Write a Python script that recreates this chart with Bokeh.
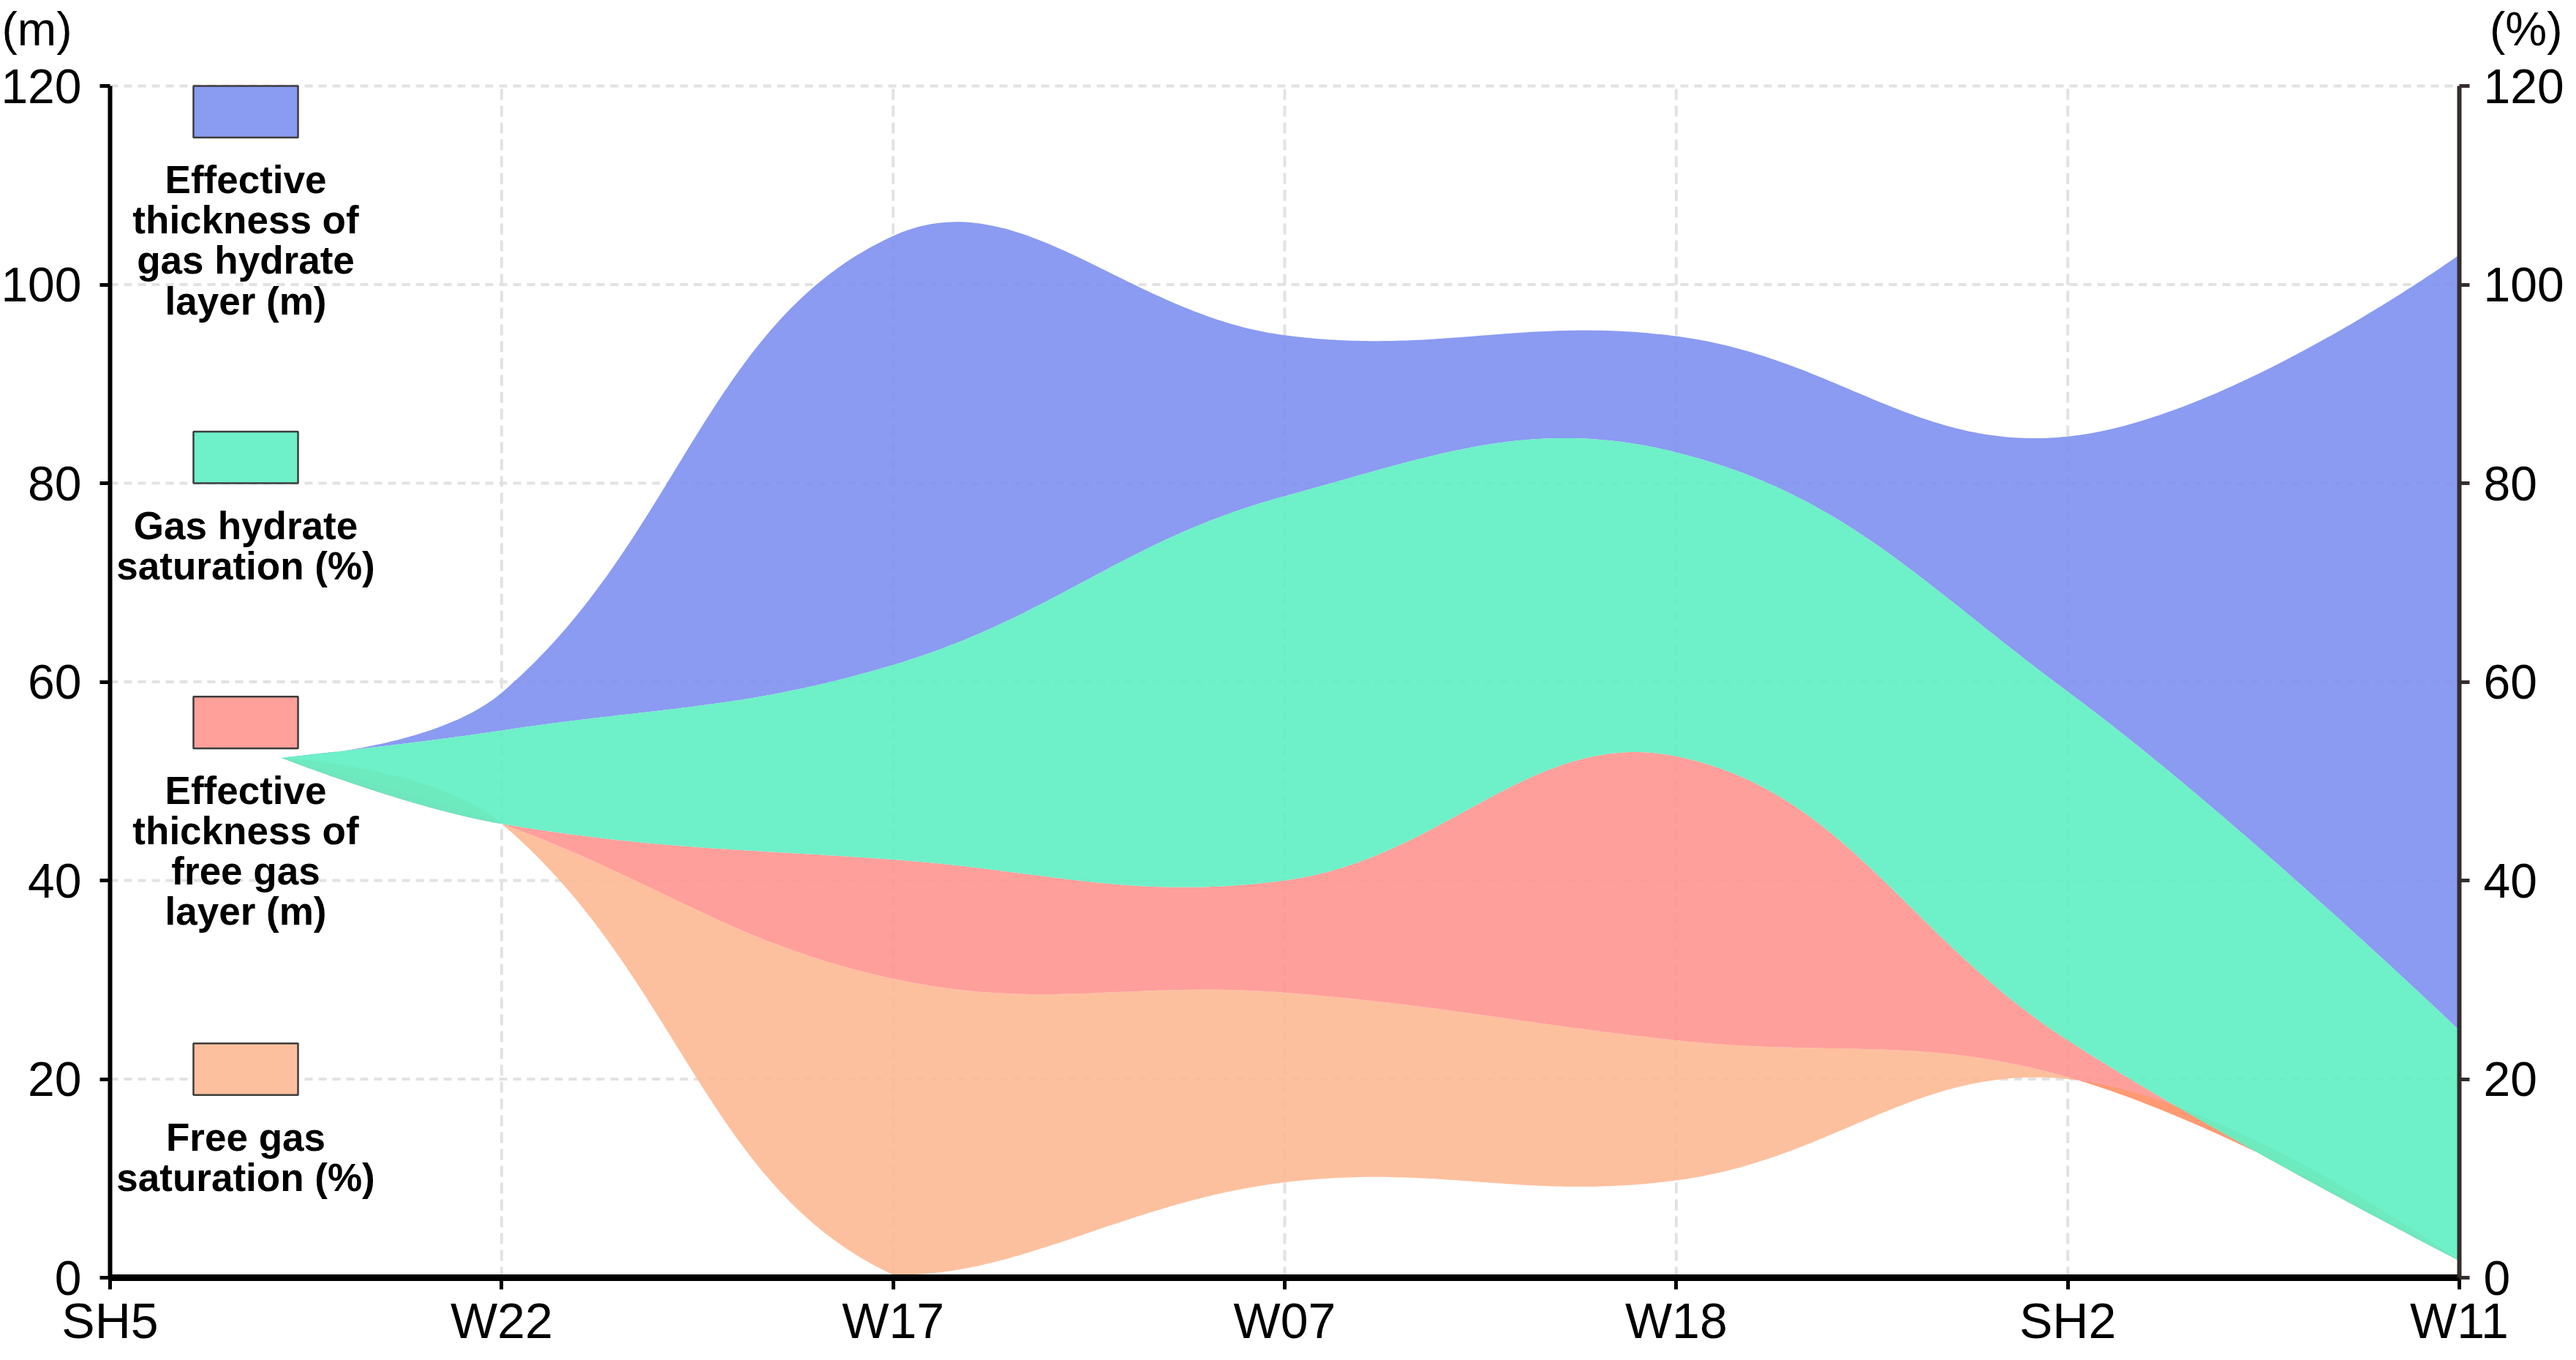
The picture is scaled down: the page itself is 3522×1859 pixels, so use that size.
import numpy as np
from bokeh.plotting import figure
from bokeh.models import Range1d, LinearAxis, FixedTicker, Label
from bokeh.embed import file_html
from bokeh.resources import INLINE
from bokeh.core.properties import value

# ---------------- data ----------------
stations = ["SH5", "W22", "W17", "W07", "W18", "SH2", "W11"]
# x position of each data point of the stream (first point = start of the stream)
stream_x = [0.437, 1, 2, 3, 4, 5, 6]
blue_thick = [0, 3.8, 43.2, 16.2, 11.7, 25.7, 78.1]      # effective thickness of gas hydrate layer (m)
green_sat = [0, 9.4, 19.6, 38.7, 30.6, 35.1, 23.2]       # gas hydrate saturation (%)
red_thick = [0, 0, 12.0, 11.3, 28.6, 3.7, 0]             # effective thickness of free gas layer (m)
orange_sat = [0, 0, 29.8, 19.1, 14.1, 0.2, 0]            # free gas saturation (%)
stream_centre = [52.35, 52.3, 52.6, 52.25, 52.3, 52.35, 52.35]
y_ticks = [0, 20, 40, 60, 80, 100, 120]
legend_labels = [
    ["Effective", "thickness of", "gas hydrate", "layer (m)"],
    ["Gas hydrate", "saturation (%)"],
    ["Effective", "thickness of", "free gas", "layer (m)"],
    ["Free gas", "saturation (%)"],
]

# ---------------- styling / layout ----------------
FONT = "Liberation Sans"
C_BLUE, C_GREEN, C_RED, C_ORANGE = "#7D90F0", "#5EEEC2", "#FF9590", "#FDB993"
L_BLUE, L_GREEN, L_RED, L_ORANGE = "#8A9BF2", "#6EF0C8", "#FFA09B", "#FDC09E"
C_OVERLAP = "#FF9A72"
GRID_C = "#e2e2e2"

W, H = 3506, 1843
PX_X0, PX_X6 = 150.0, 3362.0      # pixel column of x = 0 and x = 6
PX_Y0, PX_Y120 = 1746.0, 117.0    # pixel row of y = 0 and y = 120
SX = (PX_X6 - PX_X0) / 6.0
SY = (PX_Y0 - PX_Y120) / 120.0
X_START, X_END = -PX_X0 / SX, 6 + (W - PX_X6) / SX
Y_START, Y_END = -(H - PX_Y0) / SY, 120 + PX_Y120 / SY
RSX, RSY = 535.33, 13.667          # pixel scale of the reference (legend placement)

# stacked boundaries around the centre line
b = np.array(blue_thick, float)
g = np.array(green_sat, float)
r = np.array(red_thick, float)
o = np.array(orange_sat, float)
tot = b + g + r + o
B0 = np.array(stream_centre) - tot / 2.0
O0 = B0 + o
R0 = O0 + r
G0 = R0 + g
T0 = G0 + b


def smooth_curve(xs, ys, smooth=0.4, n=90):
    P = np.column_stack([np.asarray(xs, float) * SX, np.asarray(ys, float) * SY])
    m = len(P)
    cin = P.copy()
    cout = P.copy()
    for i in range(1, m - 1):
        v = P[i + 1] - P[i - 1]
        d0 = np.hypot(*(P[i] - P[i - 1]))
        d1 = np.hypot(*(P[i + 1] - P[i]))
        s = d0 + d1
        r0, r1 = (d0 / s, d1 / s) if s else (0.5, 0.5)
        cin[i] = P[i] - v * smooth * r0
        cout[i] = P[i] + v * smooth * r1
    # keep control points above the x axis
    cin[:, 1] = np.maximum(cin[:, 1], 0.0)
    cout[:, 1] = np.maximum(cout[:, 1], 0.0)
    t = np.linspace(0, 1, n)[:, None]
    out = []
    for i in range(m - 1):
        a, bb, c, d = P[i], cout[i], cin[i + 1], P[i + 1]
        seg = (1 - t) ** 3 * a + 3 * (1 - t) ** 2 * t * bb + 3 * (1 - t) * t ** 2 * c + t ** 3 * d
        out.append(seg if i == 0 else seg[1:])
    out = np.vstack(out)
    return out[:, 0] / SX, np.maximum(out[:, 1] / SY, 0.0)


curves = {k: smooth_curve(stream_x, v) for k, v in
          dict(B=B0, O=O0, R=R0, G=G0, T=T0).items()}

p = figure(width=W, height=H, x_range=Range1d(X_START, X_END), y_range=Range1d(Y_START, Y_END),
           output_backend="svg", toolbar_location=None, min_border=0)
p.outline_line_color = None
p.background_fill_color = "white"
p.border_fill_color = "white"
p.xgrid.visible = False
p.ygrid.visible = False

# dashed grid (drawn first, below the streams)
p.segment(x0=[0] * 6, y0=y_ticks[1:], x1=[6] * 6, y1=y_ticks[1:],
          line_color=GRID_C, line_width=4, line_dash="11 8")
p.segment(x0=list(range(1, 6)), y0=[0] * 5, x1=list(range(1, 6)), y1=[120] * 5,
          line_color=GRID_C, line_width=4, line_dash="15 8")


def layer(lo, hi, color):
    xl, yl = curves[lo]
    xh, yh = curves[hi]
    xs = np.concatenate([xh, xl[::-1]])
    ys = np.concatenate([yh, yl[::-1]])
    p.patch(xs, ys, fill_color=color, fill_alpha=0.9, line_color=None)


layer("G", "T", C_BLUE)
layer("B", "O", C_ORANGE)
layer("O", "R", C_RED)

# region where the two free-gas layers overlap each other
xg = np.linspace(stream_x[0], stream_x[-1], 3000)
Bi = np.interp(xg, *curves["B"])
Oi = np.interp(xg, *curves["O"])
Ri = np.interp(xg, *curves["R"])
lo = np.maximum(np.minimum(Oi, Bi), np.minimum(Ri, Oi))
hi = np.minimum(np.maximum(Oi, Bi), np.maximum(Ri, Oi))
hi = np.where(hi > lo, hi, lo)
p.varea(x=xg, y1=lo, y2=hi, fill_color=C_OVERLAP, fill_alpha=1.0)

layer("R", "G", C_GREEN)

# ---------------- legend (drawn inside the plot) ----------------
box_l, box_r = (264 - 150) / RSX, (407 - 150) / RSX
text_x = (335.5 - 150) / RSX
box_bottoms = [114.8, 80.0, 53.3, 18.4]
box_h = 5.2
for cols, bot, lines in zip([L_BLUE, L_GREEN, L_RED, L_ORANGE], box_bottoms, legend_labels):
    p.quad(left=box_l, right=box_r, bottom=bot, top=bot + box_h,
           fill_color=cols, line_color="#3c3c3c", line_width=2.5)
    first = bot - 58 / RSY
    ys_t = [first - i * 55.5 / RSY for i in range(len(lines))]
    p.text(x=[text_x] * len(lines), y=ys_t, text=lines,
           text_font=value(FONT), text_font_size="53px", text_font_style="bold",
           text_align="center", text_baseline="alphabetic", text_color="black")

# ---------------- axes ----------------
xax = p.xaxis[0]
xax.fixed_location = 0
xax.bounds = (0, 6)
xax.ticker = FixedTicker(ticks=list(range(len(stations))))
xax.major_label_overrides = {i: s for i, s in enumerate(stations)}
xax.axis_line_width = 9
xax.axis_line_color = "black"
xax.major_tick_out = 16
xax.major_tick_in = 0
xax.major_tick_line_width = 5
xax.minor_tick_line_color = None
xax.major_label_text_font = FONT
xax.major_label_text_font_size = "68px"
xax.major_label_standoff = 4
xax.major_label_text_color = "black"

yax = p.yaxis[0]
yax.fixed_location = 0
yax.bounds = (0, 120)
yax.ticker = FixedTicker(ticks=y_ticks)
yax.axis_line_width = 6
yax.axis_line_color = "black"
yax.major_tick_out = 14
yax.major_tick_in = 0
yax.major_tick_line_width = 5
yax.minor_tick_line_color = None
yax.major_label_text_font = FONT
yax.major_label_text_font_size = "66px"
yax.major_label_standoff = 25
yax.major_label_text_color = "black"

rax = LinearAxis(ticker=FixedTicker(ticks=y_ticks), fixed_location=6, bounds=(0, 120))
rax.axis_line_width = 6
rax.axis_line_color = "#342d2b"
rax.major_tick_out = 14
rax.major_tick_in = 0
rax.major_tick_line_width = 5
rax.major_tick_line_color = "#342d2b"
rax.minor_tick_line_color = None
rax.major_label_text_font = FONT
rax.major_label_text_font_size = "66px"
rax.major_label_standoff = 19
rax.major_label_text_color = "black"
p.add_layout(rax, "right")

# unit titles
y_unit = 120 + (117 - 39) / SY
p.add_layout(Label(x=(2 - PX_X0) / SX, y=y_unit, text="(m)",
                   text_font=FONT, text_font_size="64px", text_align="left",
                   text_baseline="alphabetic", text_color="black"))
p.add_layout(Label(x=6 + (3503 - PX_X6) / SX, y=y_unit, text="(%)",
                   text_font=FONT, text_font_size="64px", text_align="right",
                   text_baseline="alphabetic", text_color="black"))

open("out.html", "w").write(file_html(p, INLINE))
